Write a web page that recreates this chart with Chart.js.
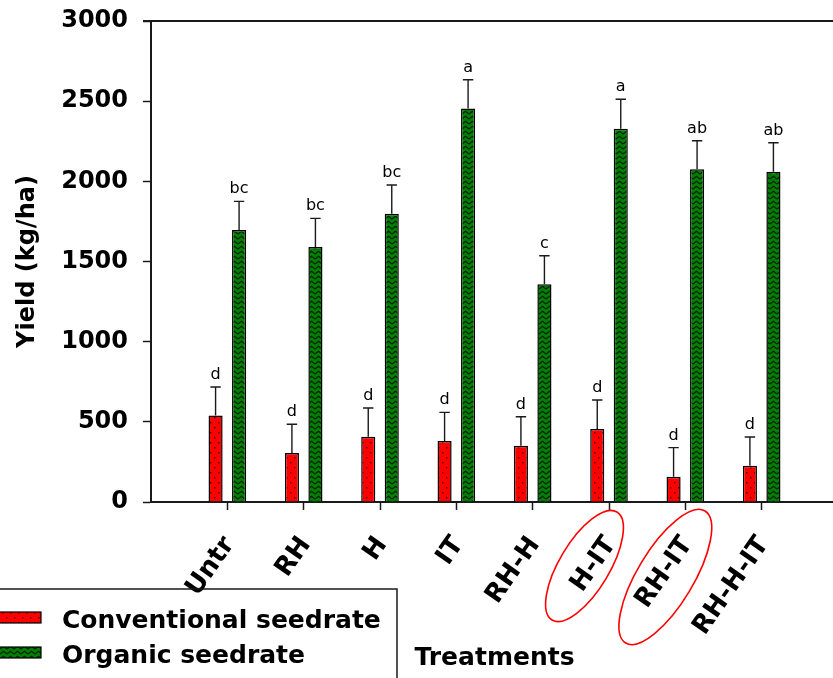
<!DOCTYPE html>
<html><head><meta charset="utf-8">
<script src="https://cdn.jsdelivr.net/npm/chart.js@4.4.0/dist/chart.umd.min.js"></script>
<style>
html,body{margin:0;padding:0;overflow:hidden;background:#fff;width:833px;height:678px}
#wrap{position:relative;width:838px;height:678px}
canvas{display:block}
</style></head>
<body><div id="wrap"><canvas id="c" width="838" height="678"></canvas></div>
<script>
// ---- data ----
const categories = ['Untr', 'RH', 'H', 'IT', 'RH-H', 'H-IT', 'RH-IT', 'RH-H-IT'];
const conventional = [540, 305, 407, 380, 351, 455, 158, 226];
const conventionalErr = [177, 180, 179, 179, 181, 181, 181, 179];
const conventionalLetters = ['d', 'd', 'd', 'd', 'd', 'd', 'd', 'd'];
const organic = [1696, 1590, 1798, 2455, 1358, 2328, 2075, 2060];
const organicErr = [179, 179, 179, 179, 178, 184, 178, 181];
const organicLetters = ['bc', 'bc', 'bc', 'a', 'c', 'a', 'ab', 'ab'];
const highlighted = ['H-IT', 'RH-IT'];
const seriesNames = ['Conventional seedrate', 'Organic seedrate'];
const yTicks = [0, 500, 1000, 1500, 2000, 2500, 3000];

const FONT = "'DejaVu Sans', 'Liberation Sans', sans-serif";
const INK = '#1a1a1a';

function dotPattern() {
  const c = document.createElement('canvas'); c.width = 8; c.height = 10;
  const g = c.getContext('2d');
  g.fillStyle = '#ff0000'; g.fillRect(0, 0, 8, 10);
  g.fillStyle = '#400000';
  g.fillRect(2, 2, 1.4, 1.4); g.fillRect(6, 7, 1.4, 1.4);
  return g.createPattern(c, 'repeat');
}
function zigPattern() {
  const c = document.createElement('canvas'); c.width = 7; c.height = 5;
  const g = c.getContext('2d');
  g.fillStyle = '#008000'; g.fillRect(0, 0, 7, 5);
  g.strokeStyle = '#002000'; g.lineWidth = 1.2;
  g.beginPath(); g.moveTo(0, 4); g.lineTo(3.5, 1.2); g.lineTo(7, 4); g.stroke();
  return g.createPattern(c, 'repeat');
}
const redFill = dotPattern();
const greenFill = zigPattern();

// padded so that the axis has an empty slot at both ends
const labels = ['', ...categories, ''];
const pad = a => [null, ...a, null];

const errs = [pad(conventionalErr), pad(organicErr)];
const letters = [pad(conventionalLetters), pad(organicLetters)];

const decorations = {
  id: 'decorations',
  afterDatasetsDraw(chart) {
    const ctx = chart.ctx, y = chart.scales.y, area = chart.chartArea;
    ctx.save();
    // top frame line
    ctx.strokeStyle = INK; ctx.lineWidth = 2;
    ctx.beginPath(); ctx.moveTo(area.left - 8, area.top); ctx.lineTo(area.right, area.top); ctx.stroke();
    // error bars and letters
    chart.data.datasets.forEach((ds, di) => {
      const meta = chart.getDatasetMeta(di);
      meta.data.forEach((el, i) => {
        const v = ds.data[i];
        if (v == null) return;
        const top = y.getPixelForValue(v + errs[di][i]);
        ctx.strokeStyle = INK; ctx.lineWidth = 1.4;
        ctx.beginPath();
        ctx.moveTo(el.x, el.y); ctx.lineTo(el.x, top);
        ctx.moveTo(el.x - 5.2, top); ctx.lineTo(el.x + 5.2, top);
        ctx.stroke();
        ctx.fillStyle = '#000'; ctx.font = '16px ' + FONT;
        ctx.textAlign = 'center'; ctx.textBaseline = 'alphabetic';
        ctx.fillText(letters[di][i], el.x, top - 8);
      });
    });
    ctx.restore();
  },
  afterDraw(chart) {
    const ctx = chart.ctx, x = chart.scales.x, area = chart.chartArea;
    ctx.save();
    // red ellipses around highlighted treatment labels
    ctx.strokeStyle = '#ff0000'; ctx.lineWidth = 1.6;
    highlighted.forEach((name, k) => {
      const px = x.getPixelForValue(labels.indexOf(name));
      const cx = px - (k === 0 ? 24.5 : 20);
      const cy = area.bottom + (k === 0 ? 64 : 75);
      const a = k === 0 ? 63 : 77, b = k === 0 ? 25 : 28;
      ctx.beginPath();
      ctx.ellipse(cx, cy, a, b, -59 * Math.PI / 180, 0, Math.PI * 2);
      ctx.stroke();
    });
    // legend box
    ctx.strokeStyle = INK; ctx.lineWidth = 1.5;
    ctx.strokeRect(-5, 589, 402, 120);
    chart.data.datasets.forEach((ds, i) => {
      const sy = 612 + i * 35;
      ctx.fillStyle = ds.backgroundColor;
      ctx.fillRect(-2, sy, 43, 11);
      ctx.strokeStyle = '#000'; ctx.lineWidth = 1.2;
      ctx.strokeRect(-2, sy, 43, 11);
      ctx.fillStyle = '#000';
      ctx.font = 'bold 25px ' + FONT;
      ctx.textAlign = 'left'; ctx.textBaseline = 'alphabetic';
      ctx.fillText(ds.label, 62, 628 + i * 35);
    });
    ctx.restore();
  }
};

new Chart(document.getElementById('c'), {
  type: 'bar',
  data: {
    labels: labels,
    datasets: [
      { label: seriesNames[0], data: pad(conventional), backgroundColor: redFill,
        borderColor: '#000', borderWidth: 1.5, borderSkipped: 'start' },
      { label: seriesNames[1], data: pad(organic), backgroundColor: greenFill,
        borderColor: '#000', borderWidth: 1.5, borderSkipped: 'start' }
    ]
  },
  options: {
    responsive: false, animation: false, devicePixelRatio: 1,
    categoryPercentage: 0.616, barPercentage: 0.6,
    layout: { padding: { top: 21, right: 0, left: 0, bottom: 0 } },
    plugins: { legend: { display: false }, tooltip: { enabled: false } },
    scales: {
      x: {
        type: 'category', offset: false,
        grid: { offset: false, drawOnChartArea: false, drawTicks: true, tickLength: 8, tickWidth: 1.5,
          tickColor: c => (c.index === 0 || c.index === labels.length - 1) ? 'rgba(0,0,0,0)' : INK },
        border: { display: true, color: INK, width: 2 },
        ticks: { autoSkip: false, minRotation: 55, maxRotation: 55, padding: 21, labelOffset: 2,
          color: '#000', font: { family: FONT, size: 26, weight: 'bold' } },
        title: { display: true, text: 'Treatments', color: '#000',
          font: { family: FONT, size: 25, weight: 'bold' }, padding: { top: 0, bottom: 5 } },
        afterFit: s => { s.height = 176; s.paddingLeft = 0; s.paddingRight = 0; }
      },
      y: {
        min: 0, max: 3000,
        afterBuildTicks: s => { s.ticks = yTicks.map(v => ({ value: v })); },
        grid: { drawOnChartArea: false, drawTicks: true, tickLength: 8, tickWidth: 1.5, tickColor: INK },
        border: { display: true, color: INK, width: 2 },
        ticks: { padding: 15, color: '#000', font: { family: FONT, size: 24, weight: 'bold' },
          callback: v => String(v) },
        title: { display: true, text: 'Yield (kg/ha)', color: '#000',
          font: { family: FONT, size: 24, weight: 'bold' }, padding: { top: 13, bottom: 0 } },
        afterFit: s => { s.width = 151; s.paddingTop = 0; s.paddingBottom = 0; }
      }
    }
  },
  plugins: [decorations]
});
</script>
</body></html>
